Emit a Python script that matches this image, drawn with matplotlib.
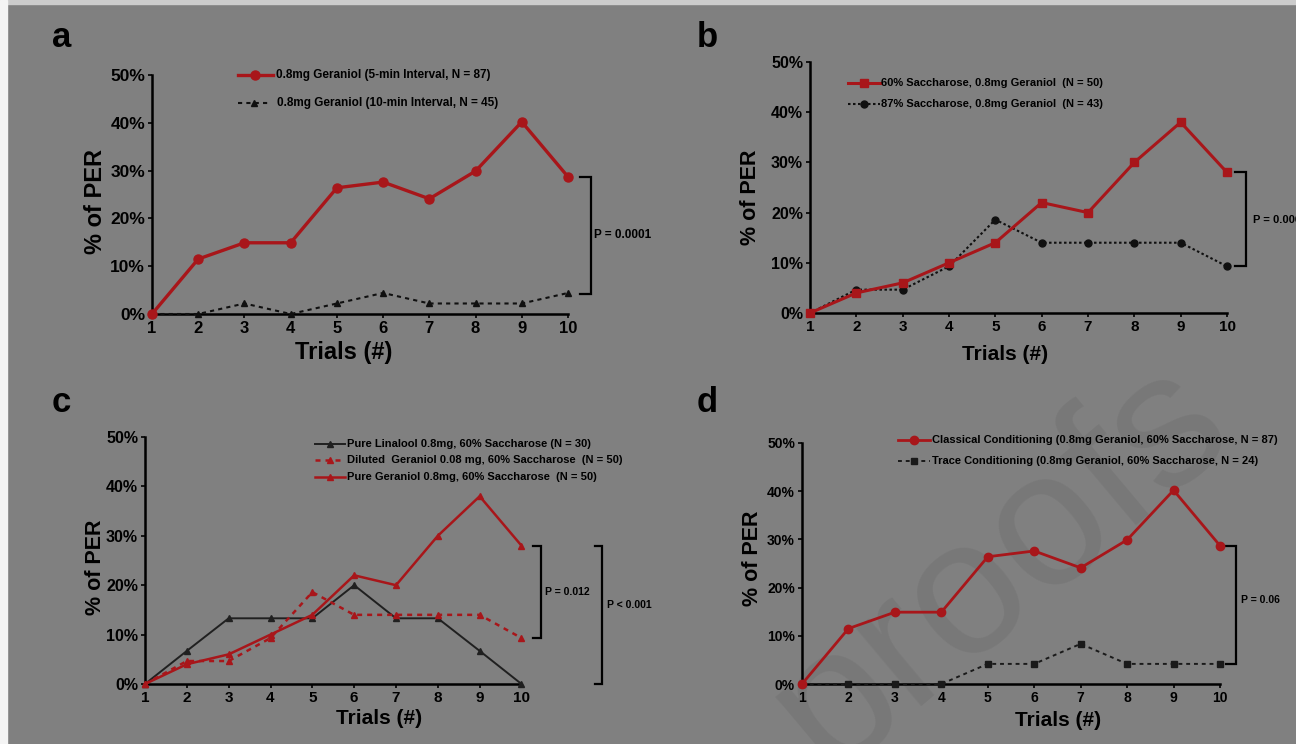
import matplotlib
matplotlib.use('Agg')
import matplotlib.pyplot as plt
from matplotlib.lines import Line2D
from matplotlib.patches import Rectangle

plt.rcParams['font.family'] = ['Liberation Sans', 'DejaVu Sans']
plt.rcParams['font.weight'] = 'bold'

W, H = 1296, 744
BG = '#808080'
RED = '#a8161a'
BLK = '#101010'

trials = list(range(1, 11))
tick_labels_x = [str(t) for t in trials]
yticks = [0, 10, 20, 30, 40, 50]
ytick_labels = ['0%', '10%', '20%', '30%', '40%', '50%']

# ---- data (percent of PER) ----
a_5min = [0, 11.5, 14.9, 14.9, 26.4, 27.6, 24.1, 29.9, 40.2, 28.7]
a_10min = [0, 0, 2.2, 0, 2.2, 4.4, 2.2, 2.2, 2.2, 4.4]
a_names = ['0.8mg Geraniol (5-min Interval, N = 87)',
           '0.8mg Geraniol (10-min Interval, N = 45)']

b_60 = [0, 4, 6, 10, 14, 22, 20, 30, 38, 28]
b_87 = [0, 4.65, 4.65, 9.3, 18.6, 14.0, 14.0, 14.0, 14.0, 9.3]
b_names = ['60% Saccharose, 0.8mg Geraniol  (N = 50)',
           '87% Saccharose, 0.8mg Geraniol  (N = 43)']

c_linalool = [0, 6.7, 13.3, 13.3, 13.3, 20.0, 13.3, 13.3, 6.7, 0]
c_diluted = [0, 4.65, 4.65, 9.3, 18.6, 14.0, 14.0, 14.0, 14.0, 9.3]
c_pure = [0, 4, 6, 10, 14, 22, 20, 30, 38, 28]
c_names = ['Pure Linalool 0.8mg, 60% Saccharose (N = 30)',
           'Diluted  Geraniol 0.08 mg, 60% Saccharose  (N = 50)',
           'Pure Geraniol 0.8mg, 60% Saccharose  (N = 50)']

d_classical = [0, 11.5, 14.9, 14.9, 26.4, 27.6, 24.1, 29.9, 40.2, 28.7]
d_trace = [0, 0, 0, 0, 4.17, 4.17, 8.33, 4.17, 4.17, 4.17]
d_names = ['Classical Conditioning (0.8mg Geraniol, 60% Saccharose, N = 87)',
           'Trace Conditioning (0.8mg Geraniol, 60% Saccharose, N = 24)']

p_texts = {'a': ['P = 0.0001'], 'b': ['P = 0.006'], 'c': ['P = 0.012', 'P < 0.001'], 'd': ['P = 0.06']}

fig = plt.figure(figsize=(W / 100, H / 100), dpi=100, facecolor=BG)
fig.patches.append(Rectangle((0, 1 - 4 / H), 1, 4 / H, transform=fig.transFigure,
                             color='#cccccc', zorder=-5))
fig.patches.append(Rectangle((0, 0), 7 / W, 1, transform=fig.transFigure,
                             color='#f4f4f4', zorder=-5))

# watermark (partly outside the picture, as in the reference)
fig.text(1000 / W, 1 - 565 / H, 'proofs', rotation=40, fontsize=138, color='k',
         alpha=0.06, ha='center', va='center', weight='normal', zorder=-1)


def fx(x):
    return x / W


def fy(y):
    return 1 - y / H


def make_axes(x0, x1, ytop, ybot, xfs, yfs):
    ax = fig.add_axes([fx(x0), fy(ybot), (x1 - x0) / W, (ybot - ytop) / H])
    ax.set_facecolor('none')
    ax.set_xlim(1, 10)
    ax.set_ylim(0, 50)
    for s in ['top', 'right']:
        ax.spines[s].set_visible(False)
    for s in ['left', 'bottom']:
        ax.spines[s].set_linewidth(1.8)
        ax.spines[s].set_color('black')
    ax.set_xticks(trials)
    ax.set_xticklabels(tick_labels_x, fontsize=xfs, fontweight='bold')
    ax.set_yticks(yticks)
    ax.set_yticklabels(ytick_labels, fontsize=yfs, fontweight='bold')
    ax.tick_params(length=3, width=1.2, pad=2)
    return ax


def legend_row(x0, x1, y, xt, style, label, fs=8):
    ls = dict(style)
    marker = ls.pop('marker', None)
    ms = ls.pop('ms', 5)
    fig.add_artist(Line2D([fx(x0), fx(x1)], [fy(y), fy(y)], transform=fig.transFigure, **ls))
    if marker:
        fig.add_artist(Line2D([fx((x0 + x1) / 2)], [fy(y)], transform=fig.transFigure,
                              marker=marker, ms=ms, color=ls.get('color'), linestyle='none'))
    fig.text(fx(xt), fy(y), label, fontsize=fs, fontweight='bold', va='center', ha='left')


def bracket(ax, xs, xv, ytop, ybot, lw=1.6):
    ax.plot([xs, xv, xv, xs], [ytop, ytop, ybot, ybot], color='black', lw=lw,
            clip_on=False, solid_joinstyle='miter')


# ---------------- Panel a ----------------
ax = make_axes(152, 568, 75, 314, 12, 12.5)
sa1 = dict(color=RED, lw=2.4, marker='o', ms=6.5)
sa2 = dict(color=BLK, lw=1.5, linestyle=(0, (2, 2)), marker='^', ms=5)
ax.plot(trials, a_5min, clip_on=False, zorder=4, **sa1)
ax.plot(trials, a_10min, clip_on=False, zorder=3, **sa2)
bracket(ax, 10.25, 10.5, 28.6, 4.2)
ax.text(10.56, 16.5, p_texts['a'][0], fontsize=8.5, fontweight='bold', va='center')
legend_row(238, 273, 75, 276, sa1, a_names[0], 8.5)
legend_row(238, 270, 103, 277, sa2, a_names[1], 8.5)
fig.text(fx(95), fy(202), '% of PER', rotation=90, fontsize=17, fontweight='bold',
         ha='center', va='center')
fig.text(fx(344), fy(353), 'Trials (#)', fontsize=17, fontweight='bold', ha='center', va='center')
fig.text(fx(52), fy(47), 'a', fontsize=25, fontweight='bold', ha='left', va='baseline')

# ---------------- Panel b ----------------
ax = make_axes(810, 1227, 62, 313, 11, 11.5)
sb1 = dict(color=RED, lw=2.2, marker='s', ms=5.5)
sb2 = dict(color=BLK, lw=1.5, linestyle=(0, (1.2, 1.2)), marker='o', ms=5)
ax.plot(trials, b_60, clip_on=False, zorder=4, **sb1)
ax.plot(trials, b_87, clip_on=False, zorder=3, **sb2)
bracket(ax, 10.18, 10.42, 28, 9.3)
ax.text(10.57, 18.5, p_texts['b'][0], fontsize=8, fontweight='bold', va='center')
legend_row(848, 880, 83, 881, sb1, b_names[0], 8)
legend_row(848, 880, 104, 881, sb2, b_names[1], 8)
fig.text(fx(751), fy(197), '% of PER', rotation=90, fontsize=15.5, fontweight='bold',
         ha='center', va='center')
fig.text(fx(1005), fy(355), 'Trials (#)', fontsize=15, fontweight='bold', ha='center', va='center')
fig.text(fx(697), fy(47), 'b', fontsize=25, fontweight='bold', ha='left', va='baseline')

# ---------------- Panel c ----------------
ax = make_axes(145, 521.5, 437, 684, 11, 11.5)
sc1 = dict(color='#202020', lw=1.4, marker='^', ms=4.5)
sc2 = dict(color=RED, lw=1.8, linestyle=(0, (2, 2)), marker='^', ms=5)
sc3 = dict(color=RED, lw=1.8, marker='^', ms=5)
ax.plot(trials, c_linalool, clip_on=False, zorder=3, **sc1)
ax.plot(trials, c_diluted, clip_on=False, zorder=4, **sc2)
ax.plot(trials, c_pure, clip_on=False, zorder=5, **sc3)
bracket(ax, 10.27, 10.46, 28, 9.3)
ax.text(10.55, 18.6, p_texts['c'][0], fontsize=7.5, fontweight='bold', va='center')
bracket(ax, 11.75, 11.92, 28, 0)
ax.text(12.04, 15.9, p_texts['c'][1], fontsize=7.5, fontweight='bold', va='center')
legend_row(315, 345, 444, 347, sc1, c_names[0], 8)
legend_row(315, 345, 460, 347, sc2, c_names[1], 8)
legend_row(315, 345, 477, 347, sc3, c_names[2], 8)
fig.text(fx(95), fy(567), '% of PER', rotation=90, fontsize=15.5, fontweight='bold',
         ha='center', va='center')
fig.text(fx(379), fy(718), 'Trials (#)', fontsize=15, fontweight='bold', ha='center', va='center')
fig.text(fx(52), fy(412), 'c', fontsize=25, fontweight='bold', ha='left', va='baseline')

# ---------------- Panel d ----------------
ax = make_axes(802, 1220, 443, 684, 10, 10)
sd1 = dict(color=RED, lw=2.0, marker='o', ms=6)
sd2 = dict(color='#1a1a1a', lw=1.4, linestyle=(0, (2, 2)), marker='s', ms=5)
ax.plot(trials, d_classical, clip_on=False, zorder=4, **sd1)
ax.plot(trials, d_trace, clip_on=False, zorder=3, **sd2)
bracket(ax, 10.13, 10.35, 28.7, 4.17)
ax.text(10.45, 17.5, p_texts['d'][0], fontsize=7.5, fontweight='bold', va='center')
legend_row(898, 930, 440, 932, sd1, d_names[0], 8)
legend_row(898, 930, 461, 932, sd2, d_names[1], 8)
fig.text(fx(753), fy(558), '% of PER', rotation=90, fontsize=15.5, fontweight='bold',
         ha='center', va='center')
fig.text(fx(1058), fy(720), 'Trials (#)', fontsize=15, fontweight='bold', ha='center', va='center')
fig.text(fx(697), fy(412), 'd', fontsize=25, fontweight='bold', ha='left', va='baseline')

fig.savefig('out.png', dpi=100, facecolor=BG)
